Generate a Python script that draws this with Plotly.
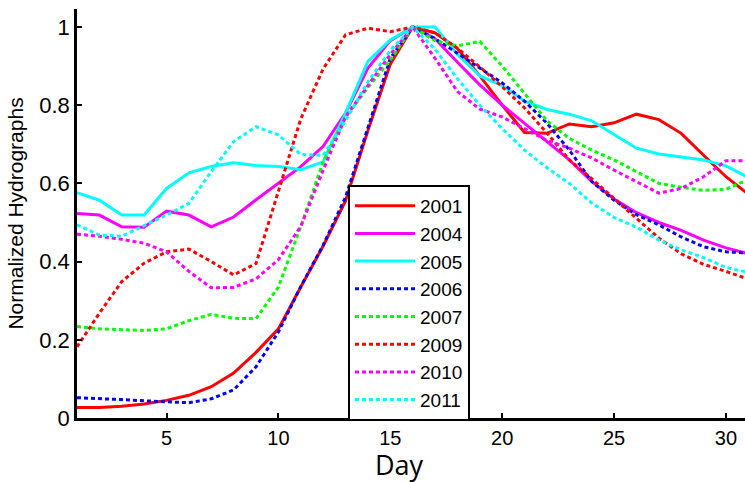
import plotly.graph_objects as go

days = list(range(1, 32))

y2001 = [0.027, 0.027, 0.030, 0.036, 0.045, 0.058, 0.080, 0.115, 0.168, 0.228, 0.335, 0.44, 0.555, 0.735, 0.905, 1.0,
         0.985, 0.945, 0.875, 0.80, 0.73, 0.728, 0.752, 0.745, 0.755, 0.777, 0.763, 0.728, 0.672, 0.617, 0.572]
y2004 = [0.523, 0.519, 0.489, 0.488, 0.529, 0.519, 0.489, 0.514, 0.558, 0.60, 0.643, 0.695, 0.78, 0.895, 0.965, 1.0,
         0.97, 0.91, 0.852, 0.80, 0.754, 0.707, 0.66, 0.605, 0.56, 0.525, 0.50, 0.48, 0.455, 0.435, 0.42]
y2005 = [0.576, 0.557, 0.519, 0.519, 0.587, 0.627, 0.643, 0.653, 0.646, 0.643, 0.635, 0.655, 0.78, 0.912, 0.967, 1.0,
         1.0, 0.93, 0.875, 0.85, 0.81, 0.789, 0.777, 0.76, 0.725, 0.69, 0.675, 0.667, 0.66, 0.645, 0.615]
y2006 = [0.052, 0.050, 0.047, 0.044, 0.042, 0.039, 0.049, 0.072, 0.131, 0.22, 0.336, 0.442, 0.565, 0.745, 0.92, 1.0,
         0.97, 0.933, 0.895, 0.857, 0.81, 0.754, 0.685, 0.605, 0.557, 0.52, 0.494, 0.463, 0.438, 0.425, 0.422]
y2007 = [0.234, 0.228, 0.226, 0.224, 0.228, 0.249, 0.265, 0.255, 0.254, 0.335, 0.49, 0.655, 0.77, 0.845, 0.916, 1.0,
         0.965, 0.952, 0.963, 0.90, 0.83, 0.76, 0.715, 0.685, 0.66, 0.63, 0.60, 0.59, 0.582, 0.585, 0.61]
y2009 = [0.182, 0.268, 0.349, 0.396, 0.425, 0.432, 0.40, 0.366, 0.395, 0.58, 0.765, 0.893, 0.98, 0.997, 0.988, 1.0,
         0.985, 0.946, 0.898, 0.847, 0.793, 0.729, 0.66, 0.612, 0.562, 0.51, 0.46, 0.42, 0.393, 0.375, 0.355]
y2010 = [0.470, 0.465, 0.457, 0.447, 0.425, 0.375, 0.333, 0.334, 0.356, 0.405, 0.49, 0.634, 0.77, 0.85, 0.93, 1.0,
         0.92, 0.835, 0.79, 0.77, 0.74, 0.71, 0.69, 0.665, 0.634, 0.605, 0.575, 0.587, 0.617, 0.658, 0.658]
y2011 = [0.494, 0.468, 0.465, 0.491, 0.519, 0.549, 0.63, 0.707, 0.745, 0.724, 0.674, 0.672, 0.76, 0.86, 0.94, 1.0,
         0.943, 0.868, 0.80, 0.74, 0.685, 0.64, 0.60, 0.55, 0.513, 0.488, 0.455, 0.43, 0.41, 0.385, 0.372]

series = [
    ("2001", y2001, "#FF0000", "solid"),
    ("2004", y2004, "#FF00FF", "solid"),
    ("2005", y2005, "#00FFFF", "solid"),
    ("2006", y2006, "#0000FF", "dot"),
    ("2007", y2007, "#00FF00", "dot"),
    ("2009", y2009, "#FF0000", "dot"),
    ("2010", y2010, "#FF00FF", "dot"),
    ("2011", y2011, "#00FFFF", "dot"),
]

x_ticks = [5, 10, 15, 20, 25, 30]
y_ticks = [0, 0.2, 0.4, 0.6, 0.8, 1]
y_tick_text = ["0", "0.2", "0.4", "0.6", "0.8", "1"]

fig = go.Figure()
for name, vals, color, style in series:
    dash = "solid" if style == "solid" else "4px,3px"
    fig.add_trace(go.Scatter(x=days, y=vals, mode="lines", name=name,
                             line=dict(color=color, width=3, dash=dash)))

font_main = "Liberation Sans, Arial, sans-serif"

fig.update_layout(
    width=745, height=482,
    margin=dict(l=77, r=0, t=9, b=64, autoexpand=False),
    paper_bgcolor="white", plot_bgcolor="white",
    font=dict(family=font_main, size=20, color="black"),
    xaxis=dict(range=[1, 30.85], tickvals=x_ticks, ticks="inside", ticklen=5, tickwidth=2,
               tickcolor="black", showline=True, linecolor="black", linewidth=2.5,
               showgrid=False, zeroline=False, tickfont=dict(size=20), automargin=False),
    yaxis=dict(range=[0, 1.046], tickvals=y_ticks, ticktext=y_tick_text, ticks="inside",
               ticklen=5, tickwidth=2, tickcolor="black", showline=True, linecolor="black",
               linewidth=2.5, showgrid=False, zeroline=False, tickfont=dict(size=22),
               automargin=False,
               title=dict(text="Normalized Hydrographs", font=dict(size=21), standoff=10)),
    legend=dict(x=0.4057, y=0.570, xanchor="left", yanchor="top", bgcolor="white",
                bordercolor="black", borderwidth=2, font=dict(size=19), itemwidth=60,
                tracegroupgap=0),
    showlegend=True,
)

fig.add_annotation(text="Day", xref="paper", yref="paper", x=0.4835, y=-0.113,
                   xanchor="center", yanchor="middle", showarrow=False,
                   font=dict(family="Open Sans, sans-serif", size=27, color="black"))

fig.write_html("out.html", post_script="document.body.style.margin='0';",
               config={"displayModeBar": False})
